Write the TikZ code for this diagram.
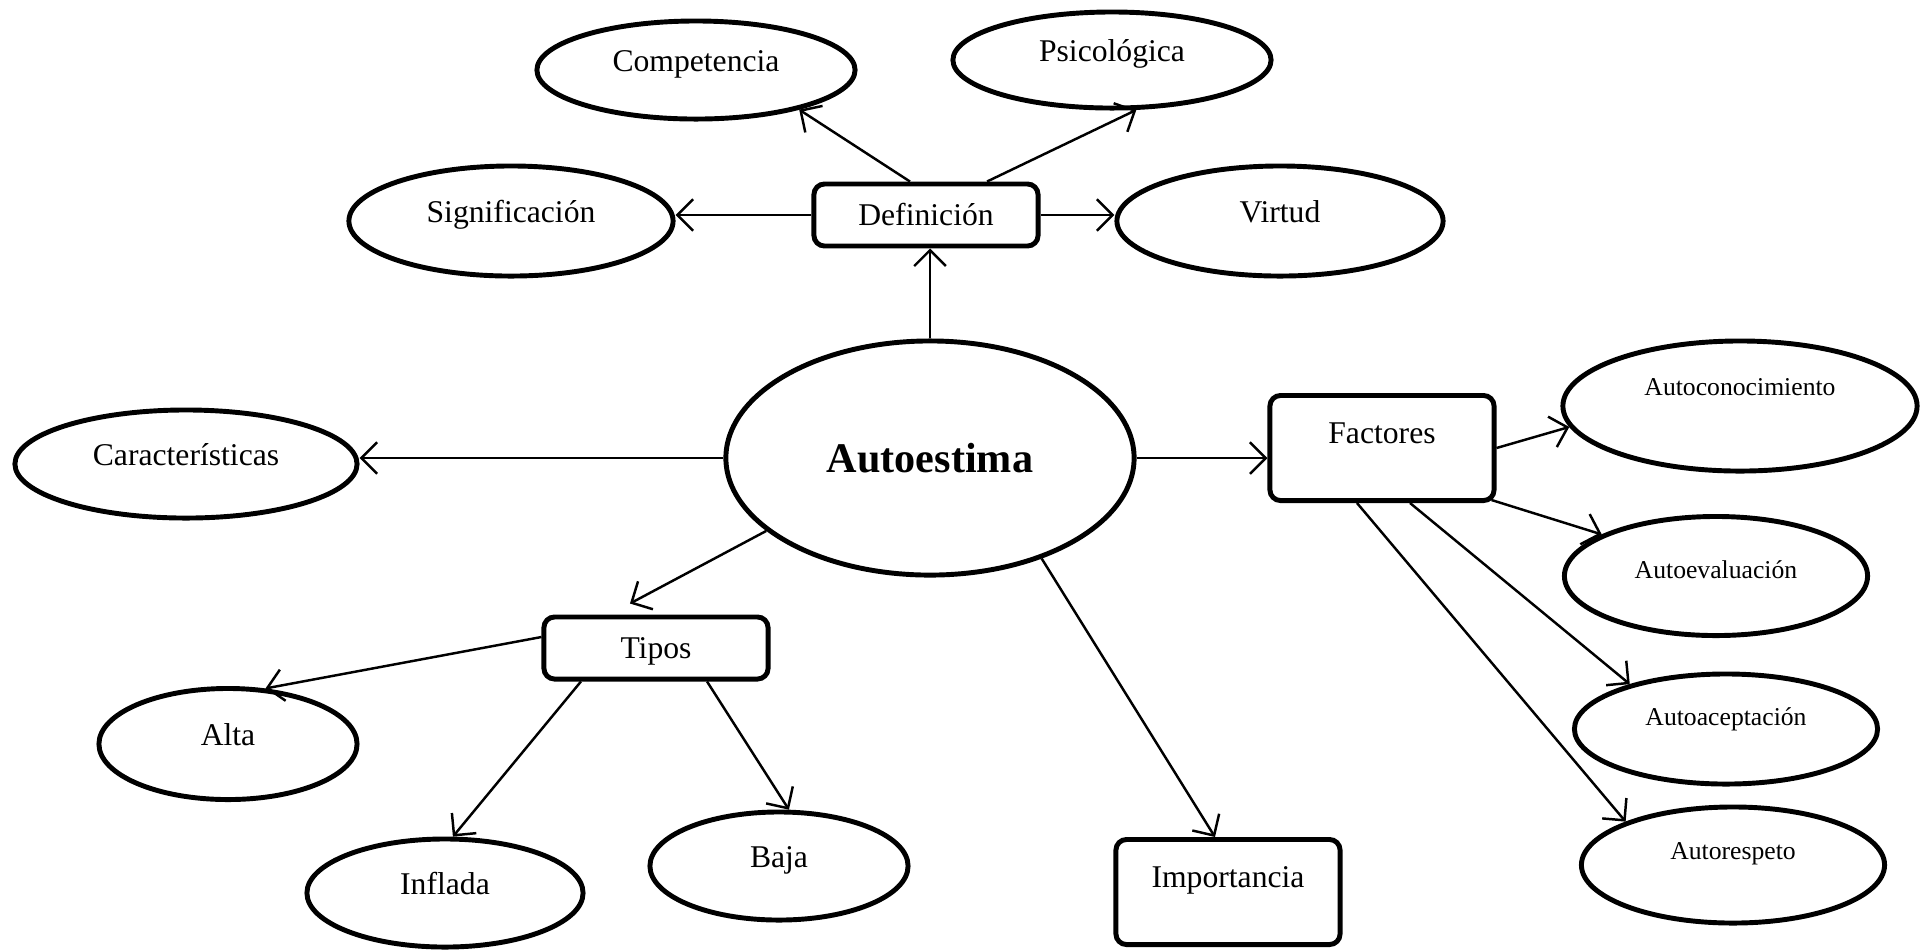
\documentclass[tikz,border=0pt]{standalone}
\usepackage{fontspec}
\setmainfont{Liberation Serif}
\usetikzlibrary{shapes.geometric,arrows.meta}

\begin{document}
\begin{tikzpicture}[x=0.01cm, y=-0.01cm,
  oval/.style={draw, ellipse, line width=1.4pt, inner sep=0pt, text height=6pt, text depth=5.2pt, font=\fontsize{9}{11}\selectfont},
  chico/.style={oval, text height=5pt, font=\fontsize{7.3}{9}\selectfont},
  caja/.style={draw, rectangle, rounded corners=3pt, line width=1.4pt, inner sep=0pt, minimum width=2.24cm, text height=6pt, text depth=0pt, font=\fontsize{9}{11}\selectfont},
  flecha/.style={-{Straight Barb[length=4.5pt,width=9pt]}, line width=0.7pt}]
\useasboundingbox (0,0) rectangle (1929,950);
\node[oval, minimum width=4.08cm, minimum height=2.34cm, text height=8pt, text depth=0pt, font=\fontsize{12}{14}\selectfont\bfseries] (aut) at (930,458) {Autoestima};
\node[caja, minimum height=0.62cm] (def) at (926,215) {Definición};
\node[oval, minimum width=3.18cm, minimum height=0.98cm] (comp) at (696,70) {Competencia};
\node[oval, minimum width=3.18cm, minimum height=0.96cm] (psi) at (1112,60) {Psicológica};
\node[oval, minimum width=3.24cm, minimum height=1.10cm] (sig) at (511,221) {Significación};
\node[oval, minimum width=3.26cm, minimum height=1.10cm] (vir) at (1280,221) {Virtud};
\node[oval, minimum width=3.42cm, minimum height=1.08cm] (car) at (186,464) {Características};
\node[caja, minimum height=1.05cm, text depth=8.4pt] (fac) at (1382,448) {Factores};
\node[chico, minimum width=3.54cm, minimum height=1.30cm, text depth=11.2pt] (ac) at (1740,406) {Autoconocimiento};
\node[chico, minimum width=3.03cm, minimum height=1.19cm, text depth=3.5pt] (ae) at (1716,576) {Autoevaluación};
\node[chico, minimum width=3.03cm, minimum height=1.10cm, text depth=7pt] (aa) at (1726,729) {Autoaceptación};
\node[chico, minimum width=3.03cm, minimum height=1.16cm, text depth=8.4pt] (ar) at (1733,865) {Autorespeto};
\node[caja, minimum height=0.62cm] (tip) at (656,648) {Tipos};
\node[oval, minimum width=2.58cm, minimum height=1.11cm] (alta) at (228,744) {Alta};
\node[oval, minimum width=2.76cm, minimum height=1.08cm] (inf) at (445,893) {Inflada};
\node[oval, minimum width=2.58cm, minimum height=1.08cm] (baja) at (779,866) {Baja};
\node[caja, minimum height=1.05cm, text depth=8.4pt] (imp) at (1228,892) {Importancia};
\draw[flecha] (aut.north) -- (aut.north |- def.south);
\draw[flecha] (def.west) -- (def.west -| sig.east);
\draw[flecha] (def.east) -- (def.east -| vir.west);
\draw[flecha] ([xshift=-0.16cm]def.north) -- (comp.-21);
\draw[flecha] ([xshift=0.61cm]def.north) -- (psi.-64);
\draw[flecha] (aut.west) -- (aut.west -| car.east);
\draw[flecha] (aut.east) -- (aut.east -| fac.west);
\draw[flecha] (aut.-156) -- ([xshift=-0.26cm,yshift=0.11cm]tip.north);
\draw[flecha] (aut.-42) -- ([xshift=-0.13cm]imp.north);
\draw[flecha] ([yshift=0.11cm]tip.west) -- (alta.56);
\draw[flecha] ([xshift=-0.75cm]tip.south) -- (inf.82);
\draw[flecha] ([xshift=0.51cm]tip.south) -- (baja.80);
\draw[flecha] (fac.east) -- (ac.-173);
\draw[flecha] ([xshift=-0.05cm,yshift=0.03cm]fac.south east) -- (ae.160);
\draw[flecha] ([xshift=0.28cm]fac.south) -- (aa.155);
\draw[flecha] ([xshift=-0.25cm]fac.south) -- (ar.158);
\end{tikzpicture}
\end{document}
